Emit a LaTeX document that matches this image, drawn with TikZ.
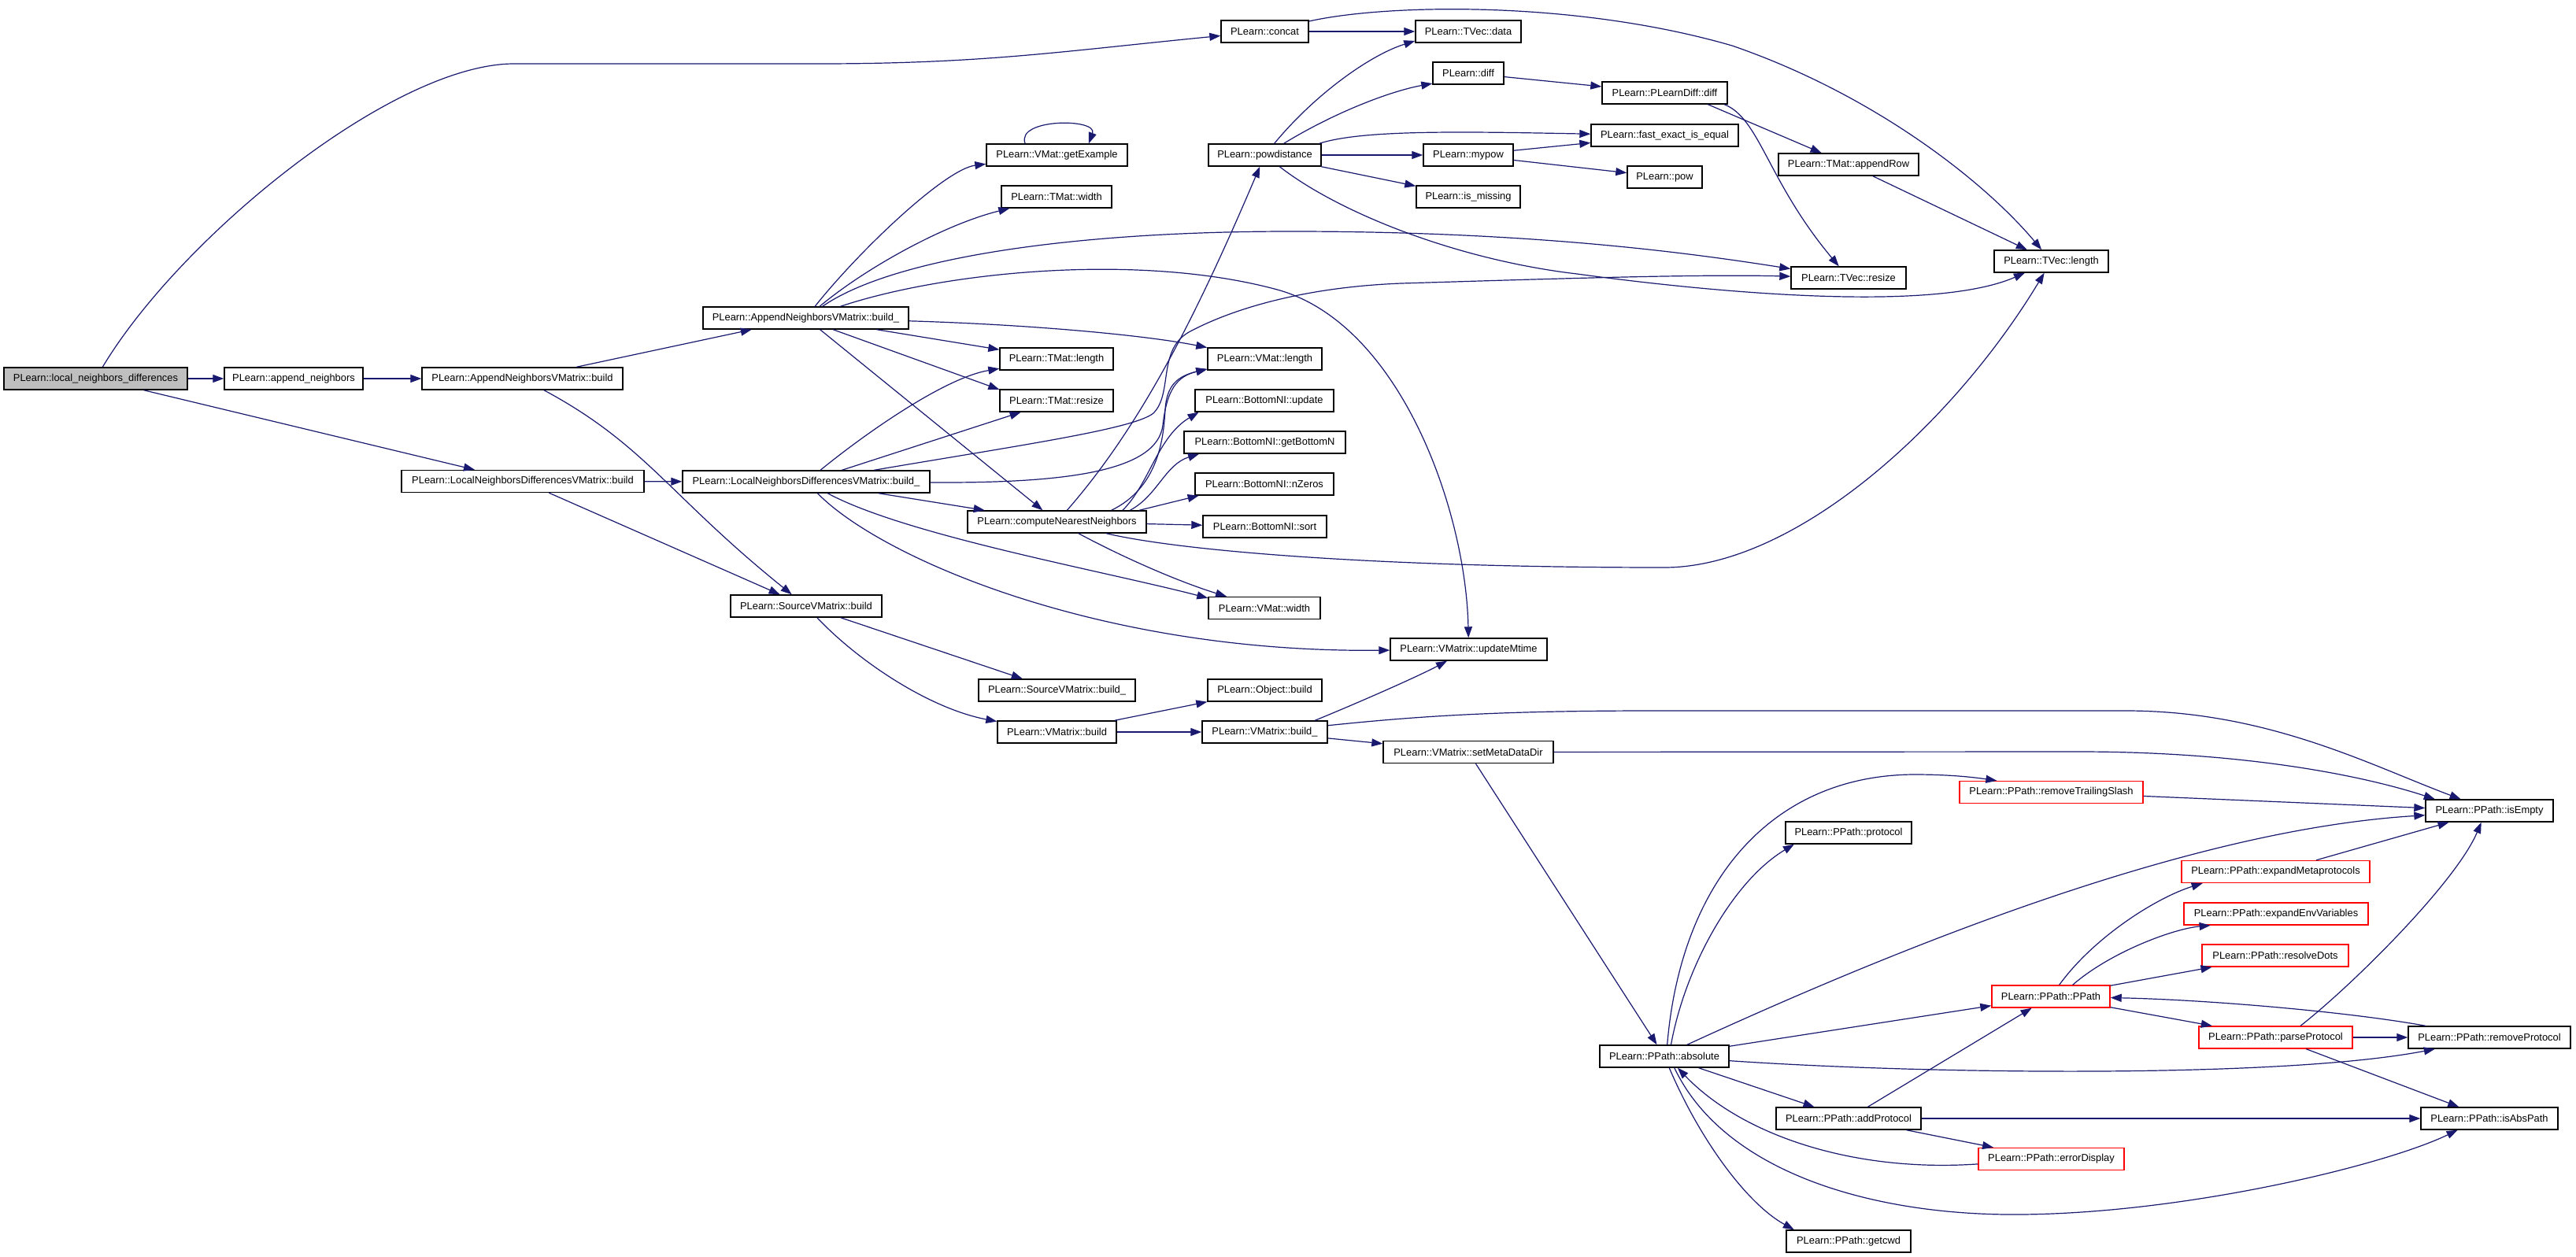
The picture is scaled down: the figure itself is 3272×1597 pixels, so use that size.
\documentclass[tikz,border=0pt]{standalone}
\usepackage{fontspec}
\usetikzlibrary{arrows.meta}
\newfontfamily\nodefont{Liberation Sans}
\definecolor{edgecol}{HTML}{191970}
\definecolor{callerfill}{HTML}{BFBFBF}
\tikzset{
  box/.style={draw=black, line width=1.4pt, fill=white, minimum height=28pt, inner sep=0pt,
    font={\nodefont\fontsize{12.9}{15}\selectfont}},
  redbox/.style={box, draw=red},
  e/.style={draw=edgecol, line width=1.2pt, -{Triangle[length=14pt,width=10pt]}},
}
\begin{document}
\begin{tikzpicture}[x=1pt,y=-1pt]
\fill[white] (0,0) rectangle (3272,1597);
\useasboundingbox (0,0) rectangle (3272,1597);
% nodes
\node[box,minimum width=233,fill=callerfill] (L) at (121.5,481) {PLearn::local\_neighbors\_differences};
\node[box,minimum width=176] (AN) at (373,481) {PLearn::append\_neighbors};
\node[box,minimum width=255] (ANB) at (663.5,481) {PLearn::AppendNeighborsVMatrix::build};
\node[box,minimum width=308] (LNB) at (664,611.5) {PLearn::LocalNeighborsDifferencesVMatrix::build};
\node[box,minimum width=261] (ANBu) at (1023.5,404) {PLearn::AppendNeighborsVMatrix::build\_};
\node[box,minimum width=314] (LNBu) at (1024,612) {PLearn::LocalNeighborsDifferencesVMatrix::build\_};
\node[box,minimum width=192] (SVB) at (1024,770) {PLearn::SourceVMatrix::build};
\node[box,minimum width=111] (concat) at (1606.5,40) {PLearn::concat};
\node[box,minimum width=134] (TVdata) at (1865,40) {PLearn::TVec::data};
\node[box,minimum width=90] (diff) at (1865,93) {PLearn::diff};
\node[box,minimum width=159] (PDdiff) at (2114.5,118) {PLearn::PLearnDiff::diff};
\node[box,minimum width=187] (fast) at (2114.5,172) {PLearn::fast\_exact\_is\_equal};
\node[box,minimum width=179] (getEx) at (1342.5,197) {PLearn::VMat::getExample};
\node[box,minimum width=143] (powd) at (1606.5,197) {PLearn::powdistance};
\node[box,minimum width=114] (mypow) at (1865,197) {PLearn::mypow};
\node[box,minimum width=95] (pow) at (2114.5,225) {PLearn::pow};
\node[box,minimum width=132] (ismissing) at (1865,250) {PLearn::is\_missing};
\node[box,minimum width=140] (TMwidth) at (1342,250) {PLearn::TMat::width};
\node[box,minimum width=178] (appendRow) at (2348,209) {PLearn::TMat::appendRow};
\node[box,minimum width=146] (TVresize) at (2348,353) {PLearn::TVec::resize};
\node[box,minimum width=145] (TVlength) at (2605.5,332) {PLearn::TVec::length};
\node[box,minimum width=144] (TMlength) at (1342,456) {PLearn::TMat::length};
\node[box,minimum width=145] (VMlength) at (1606.5,456) {PLearn::VMat::length};
\node[box,minimum width=144] (TMresize) at (1342,509) {PLearn::TMat::resize};
\node[box,minimum width=176] (BNupdate) at (1606,509) {PLearn::BottomNI::update};
\node[box,minimum width=205] (getBottomN) at (1606.5,562) {PLearn::BottomNI::getBottomN};
\node[box,minimum width=176] (nZeros) at (1606,615) {PLearn::BottomNI::nZeros};
\node[box,minimum width=227] (CNN) at (1342.5,663) {PLearn::computeNearestNeighbors};
\node[box,minimum width=157] (sort) at (1606.5,669) {PLearn::BottomNI::sort};
\node[box,minimum width=142] (VMwidth) at (1606,772.5) {PLearn::VMat::width};
\node[box,minimum width=199] (updateMtime) at (1865.5,825) {PLearn::VMatrix::updateMtime};
\node[box,minimum width=199] (SVBu) at (1342.5,877) {PLearn::SourceVMatrix::build\_};
\node[box,minimum width=145] (Objbuild) at (1606.5,877) {PLearn::Object::build};
\node[box,minimum width=151] (VMbuild) at (1342.5,930) {PLearn::VMatrix::build};
\node[box,minimum width=159] (VMbuildu) at (1606.5,930) {PLearn::VMatrix::build\_};
\node[box,minimum width=216] (setMeta) at (1865,955.5) {PLearn::VMatrix::setMetaDataDir};
\node[redbox,minimum width=233] (RTS) at (2605.5,1006.5) {PLearn::PPath::removeTrailingSlash};
\node[box,minimum width=162] (isEmpty) at (3162,1030) {PLearn::PPath::isEmpty};
\node[box,minimum width=160] (protocol) at (2348,1058) {PLearn::PPath::protocol};
\node[redbox,minimum width=239] (expMeta) at (2890.5,1107.5) {PLearn::PPath::expandMetaprotocols};
\node[redbox,minimum width=234] (expEnv) at (2891,1161) {PLearn::PPath::expandEnvVariables};
\node[redbox,minimum width=186] (resolveDots) at (2890,1214) {PLearn::PPath::resolveDots};
\node[redbox,minimum width=150] (PPath) at (2605,1266) {PLearn::PPath::PPath};
\node[redbox,minimum width=195] (parseProt) at (2890.5,1318) {PLearn::PPath::parseProtocol};
\node[box,minimum width=206] (removeProt) at (3162,1318) {PLearn::PPath::removeProtocol};
\node[box,minimum width=164] (absolute) at (2114,1342) {PLearn::PPath::absolute};
\node[box,minimum width=184] (addProt) at (2348,1421) {PLearn::PPath::addProtocol};
\node[box,minimum width=174] (isAbsPath) at (3162,1421) {PLearn::PPath::isAbsPath};
\node[redbox,minimum width=185] (errorDisp) at (2605.5,1472.5) {PLearn::PPath::errorDisplay};
\node[box,minimum width=158] (getcwd) at (2348,1577) {PLearn::PPath::getcwd};
% edges
\draw[e] (L) .. controls (230,300) and (500,81) .. (653,81) -- (1041,81) .. controls (1250,81) and (1350,65) .. (concat);
\draw[e] (L) -- (AN);
\draw[e] (L) -- (LNB);
\draw[e] (AN) -- (ANB);
\draw[e] (ANB) -- (ANBu);
\draw[e] (ANB) .. controls (820,565) and (850,630) .. (SVB);
\draw[e] (LNB) -- (LNBu);
\draw[e] (LNB) -- (SVB);
\draw[e] (ANBu) .. controls (1090,320) and (1200,215) .. (getEx);
\draw[e] (getEx.160) .. controls (1290,150) and (1395,150) .. (getEx.20);
\draw[e] (ANBu) .. controls (1100,340) and (1200,285) .. (TMwidth);
\draw[e] (ANBu) .. controls (1130,330) and (1350,294) .. (1640,294) .. controls (1950,294) and (2150,322) .. (TVresize);
\draw[e] (ANBu) .. controls (1200,345) and (1450,320) .. (1626,369) .. controls (1780,415) and (1862,650) .. (updateMtime);
\draw[e] (ANBu) .. controls (1300,412) and (1450,425) .. (VMlength);
\draw[e] (ANBu) -- (TMlength);
\draw[e] (ANBu.-23) -- (TMresize.169);
\draw[e] (ANBu) -- (CNN);
\draw[e] (LNBu) .. controls (1100,550) and (1200,480) .. (TMlength);
\draw[e] (LNBu) -- (TMresize);
\draw[e] (LNBu) .. controls (1300,565) and (1440,545) .. (1465,525) .. controls (1490,500) and (1470,445) .. (1510,422) .. controls (1560,395) and (1650,365) .. (1780,360) .. controls (1950,355) and (2150,348) .. (TVresize);
\draw[e] (LNBu) .. controls (1350,614) and (1470,600) .. (1477,540) .. controls (1482,495) and (1495,478) .. (VMlength.190);
\draw[e] (LNBu) -- (CNN);
\draw[e] (LNBu) .. controls (1150,680) and (1400,725) .. (VMwidth.170);
\draw[e] (LNBu) .. controls (1120,710) and (1400,830) .. (updateMtime);
\draw[e] (CNN) .. controls (1450,540) and (1520,400) .. (powd);
\draw[e] (CNN.12) .. controls (1470,620) and (1478,560) .. (1480,520) .. controls (1482,490) and (1495,478) .. (VMlength.190);
\draw[e] (CNN.10) .. controls (1460,615) and (1470,555) .. (BNupdate.190);
\draw[e] (CNN.9) .. controls (1470,630) and (1480,590) .. (getBottomN.190);
\draw[e] (CNN.8) -- (nZeros.190);
\draw[e] (CNN) -- (sort);
\draw[e] (CNN) .. controls (1430,710) and (1500,740) .. (VMwidth);
\draw[e] (CNN) .. controls (1500,700) and (1750,721) .. (2114,721) .. controls (2280,721) and (2480,540) .. (TVlength);
\draw[e] (powd) .. controls (1670,120) and (1740,70) .. (TVdata.190);
\draw[e] (powd) .. controls (1700,140) and (1770,115) .. (diff.196);
\draw[e] (powd.12) .. controls (1730,165) and (1850,167) .. (fast);
\draw[e] (powd) -- (mypow);
\draw[e] (powd) -- (ismissing);
\draw[e] (powd) .. controls (1700,270) and (1850,330) .. (2003,348) .. controls (2150,368) and (2450,400) .. (TVlength);
\draw[e] (mypow) -- (fast);
\draw[e] (mypow) -- (pow);
\draw[e] (diff) -- (PDdiff);
\draw[e] (concat) -- (TVdata);
\draw[e] (concat.13) .. controls (1760,5) and (2000,0) .. (2200,58) .. controls (2380,120) and (2520,230) .. (TVlength);
\draw[e] (PDdiff.-15) -- (appendRow);
\draw[e] (PDdiff.-11) .. controls (2235,150) and (2245,230) .. (TVresize);
\draw[e] (appendRow) -- (TVlength);
\draw[e] (SVB) -- (SVBu);
\draw[e] (SVB) .. controls (1090,840) and (1180,900) .. (VMbuild.170);
\draw[e] (VMbuild) -- (Objbuild);
\draw[e] (VMbuild) -- (VMbuildu);
\draw[e] (VMbuildu.13) .. controls (1720,895) and (1800,860) .. (updateMtime);
\draw[e] (VMbuildu) .. controls (1800,910) and (1900,903) .. (2100,903) -- (2700,903) .. controls (2880,903) and (3010,972) .. (isEmpty.158);
\draw[e] (VMbuildu) -- (setMeta);
\draw[e] (setMeta) -- (2640,955) .. controls (2850,955) and (3000,985) .. (isEmpty.168);
\draw[e] (setMeta) -- (absolute);
\draw[e] (RTS) -- (isEmpty);
\draw[e] (absolute.76) .. controls (2135,1120) and (2250,985) .. (2431,984) .. controls (2480,984) and (2510,988) .. (RTS.168);
\draw[e] (absolute.60) .. controls (2140,1230) and (2200,1120) .. (protocol.192);
\draw[e] (absolute.27) .. controls (2550,1140) and (2850,1050) .. (isEmpty.184);
\draw[e] (expMeta) -- (isEmpty);
\draw[e] (PPath) .. controls (2660,1190) and (2740,1140) .. (expMeta.189);
\draw[e] (PPath.28) .. controls (2680,1210) and (2760,1180) .. (expEnv.190);
\draw[e] (PPath) -- (resolveDots);
\draw[e] (PPath) -- (parseProt);
\draw[e] (absolute) -- (PPath);
\draw[e] (addProt) -- (PPath);
\draw[e] (removeProt) .. controls (2980,1285) and (2800,1270) .. (PPath);
\draw[e] (parseProt) -- (removeProt);
\draw[e] (parseProt.25) .. controls (2990,1250) and (3120,1120) .. (isEmpty.235);
\draw[e] (parseProt) -- (isAbsPath);
\draw[e] (absolute) .. controls (2450,1365) and (2900,1370) .. (removeProt.192);
\draw[e] (absolute) -- (addProt);
\draw[e] (addProt) -- (isAbsPath);
\draw[e] (addProt) -- (errorDisp);
\draw[e] (errorDisp) .. controls (2350,1490) and (2210,1440) .. (absolute.-41);
\draw[e] (absolute.-49) .. controls (2190,1490) and (2380,1545) .. (2568,1543) .. controls (2780,1541) and (3030,1480) .. (isAbsPath.200);
\draw[e] (absolute.-67) .. controls (2160,1450) and (2220,1530) .. (getcwd.168);
\end{tikzpicture}
\end{document}
